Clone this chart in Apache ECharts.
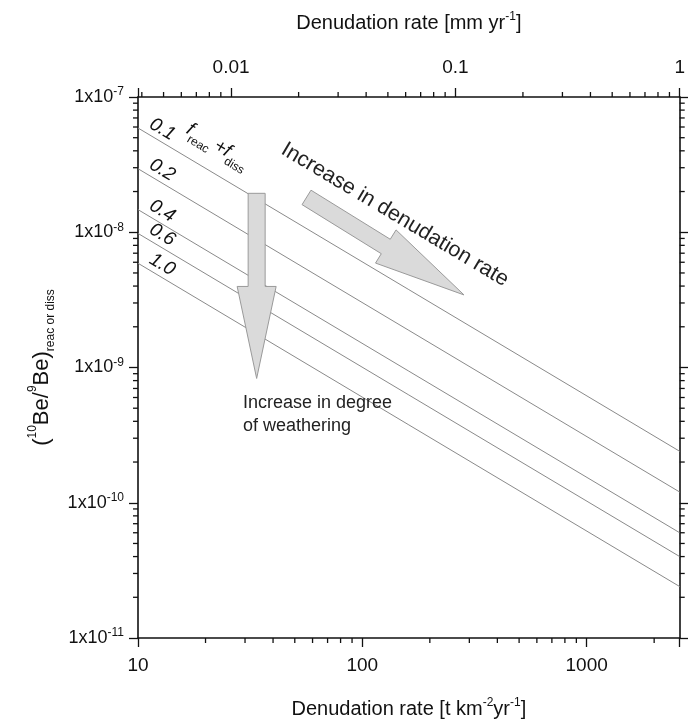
<!DOCTYPE html>
<html><head><meta charset="utf-8">
<script src="https://cdn.jsdelivr.net/npm/echarts@6/dist/echarts.min.js"></script>
<style>html,body{margin:0;padding:0;background:#fff}#c{width:688px;height:726px}</style>
</head><body><div id="c"></div>
<script>
// ---- data ----
const fLabels = ['0.1', '0.2', '0.4', '0.6', '1.0'];
const xEnds = [10, 2600];                       // t km-2 yr-1
const ratioAtStart = [5.9e-8, 2.95e-8, 1.47e-8, 9.8e-9, 5.9e-9];
const ratioAtEnd = [2.4e-10, 1.2e-10, 6.0e-11, 4.0e-11, 2.4e-11];
const bottomRange = [10, 2600];
const topRange = [0.003846, 1];                 // mm yr-1
const yRange = [1e-11, 1e-7];
const bottomTickLabels = ['10', '100', '1000'];
const topTickLabels = ['0.01', '0.1', '1'];
const yTickExps = ['-11', '-10', '-9', '-8', '-7'];
const arrowDown = { tail: [33.8, 1.94e-8], tip: [33.8, 8.3e-10] };
const arrowDiag = { tail: [56.4, 1.81e-8], tip: [284, 3.44e-9] };

const FONT = "'Liberation Sans', Arial, sans-serif";
const isPow10 = v => Math.abs(Math.log10(v) - Math.round(Math.log10(v))) < 1e-6;
function minorVals(lo, hi) {
  const out = [];
  for (let e = Math.floor(Math.log10(lo)); e <= Math.ceil(Math.log10(hi)); e++) {
    for (let k = 2; k <= 9; k++) {
      const v = k * Math.pow(10, e);
      if (v > lo * 1.0001 && v < hi * 0.9999) out.push(v);
    }
  }
  return out;
}
function tickSeries(side, values) {
  const isX = side === 'bottom' || side === 'top';
  return {
    type: 'custom', silent: true, clip: false, z: 10,
    xAxisIndex: side === 'top' ? 1 : 0,
    yAxisIndex: side === 'right' ? 1 : 0,
    data: values.map(v => isX ? [v, 1e-9] : [100, v]),
    encode: { x: 0, y: 1 },
    renderItem: function (params, api) {
      const cs = params.coordSys;
      const p = api.coord([api.value(0), api.value(1)]);
      let s;
      if (side === 'bottom') s = { x1: p[0], y1: cs.y + cs.height, x2: p[0], y2: cs.y + cs.height + 5 };
      else if (side === 'top') s = { x1: p[0], y1: cs.y, x2: p[0], y2: cs.y - 5 };
      else if (side === 'left') s = { x1: cs.x, y1: p[1], x2: cs.x - 5, y2: p[1] };
      else s = { x1: cs.x + cs.width, y1: p[1], x2: cs.x + cs.width + 5, y2: p[1] };
      return { type: 'line', shape: s, style: { stroke: '#111', lineWidth: 1.3 } };
    }
  };
}

const axisLine = { show: true, onZero: false, lineStyle: { color: '#111', width: 1.6 } };
const axisTick = { show: true, inside: false, length: 9, lineStyle: { color: '#111', width: 1.3 } };

const chart = echarts.init(document.getElementById('c'), null, { renderer: 'canvas' });

const lineSeries = fLabels.map((f, i) => ({
  type: 'line', name: f, silent: true, showSymbol: false, symbol: 'none',
  xAxisIndex: 0, yAxisIndex: 0,
  data: [[xEnds[0], ratioAtStart[i]], [xEnds[1], ratioAtEnd[i]]],
  lineStyle: { color: '#8a8a8a', width: 1 }
}));

chart.setOption({
  backgroundColor: '#fff',
  animation: false,
  textStyle: { fontFamily: FONT },
  grid: { left: 138, right: 7, top: 97, bottom: 85, containLabel: false },
  xAxis: [{
    type: 'log', position: 'bottom', min: bottomRange[0], max: bottomRange[1],
    axisLine, axisTick, splitLine: { show: false },
    axisLabel: {
      margin: 18, color: '#111', fontSize: 19, fontFamily: FONT,
      formatter: v => isPow10(v) ? bottomTickLabels[Math.round(Math.log10(v)) - 1] : ''
    },
    name: 'Denudation rate [t km{s|-2}yr{s|-1}]', nameLocation: 'middle', nameGap: 59,
    nameTextStyle: {
      color: '#111', fontSize: 20, fontFamily: FONT, lineHeight: 24,
      rich: { s: { fontSize: 12, lineHeight: 12, verticalAlign: 'top', fontFamily: FONT, color: '#111' } }
    }
  }, {
    type: 'log', position: 'top', min: topRange[0], max: topRange[1],
    axisLine, axisTick, splitLine: { show: false },
    axisLabel: {
      margin: 20, color: '#111', fontSize: 19, fontFamily: FONT,
      formatter: v => isPow10(v) ? topTickLabels[Math.round(Math.log10(v)) + 2] : ''
    },
    name: 'Denudation rate [mm yr{s|-1}]', nameLocation: 'middle', nameGap: 62,
    nameTextStyle: {
      color: '#111', fontSize: 20, fontFamily: FONT, lineHeight: 24,
      rich: { s: { fontSize: 12, lineHeight: 12, verticalAlign: 'top', fontFamily: FONT, color: '#111' } }
    }
  }],
  yAxis: [{
    type: 'log', position: 'left', min: yRange[0], max: yRange[1],
    axisLine, axisTick, splitLine: { show: false },
    axisLabel: {
      margin: 14, color: '#111', fontSize: 18, fontFamily: FONT, lineHeight: 22,
      formatter: v => isPow10(v) ? '1x10{s|' + yTickExps[Math.round(Math.log10(v)) + 11] + '}' : '',
      rich: { s: { fontSize: 12, lineHeight: 12, verticalAlign: 'top', fontFamily: FONT, color: '#111' } }
    },
    name: '({p|10}Be/{p|9}Be){b|reac or diss}', nameLocation: 'middle', nameGap: 80, nameRotate: 90,
    nameTextStyle: {
      color: '#111', fontSize: 22, fontFamily: FONT, lineHeight: 30,
      rich: {
        p: { fontSize: 12, lineHeight: 12, verticalAlign: 'top', fontFamily: FONT, color: '#111' },
        b: { fontSize: 12, lineHeight: 12, verticalAlign: 'bottom', fontFamily: FONT, color: '#111' }
      }
    }
  }, {
    type: 'log', position: 'right', min: yRange[0], max: yRange[1],
    axisLine, axisTick, splitLine: { show: false }, axisLabel: { show: false }
  }],
  series: lineSeries.concat([
    tickSeries('bottom', minorVals(bottomRange[0], bottomRange[1])),
    tickSeries('top', minorVals(topRange[0], topRange[1])),
    tickSeries('left', minorVals(yRange[0], yRange[1])),
    tickSeries('right', minorVals(yRange[0], yRange[1]))
  ])
});

// ---- annotations, placed from data coordinates ----
const toPx = p => chart.convertToPixel({ xAxisIndex: 0, yAxisIndex: 0 }, p);
function arrowPoly(a, shaftHalf, headHalf, headLen) {
  const T = toPx(a.tail), P = toPx(a.tip);
  const dx = P[0] - T[0], dy = P[1] - T[1], L = Math.hypot(dx, dy);
  const u = [dx / L, dy / L], n = [-u[1], u[0]];
  const B = [P[0] - u[0] * headLen, P[1] - u[1] * headLen];
  const pt = (base, s) => [base[0] + n[0] * s, base[1] + n[1] * s];
  return [pt(T, shaftHalf), pt(B, shaftHalf), pt(B, headHalf), P, pt(B, -headHalf), pt(B, -shaftHalf), pt(T, -shaftHalf)];
}
const s0 = toPx([xEnds[0], ratioAtStart[0]]), s1 = toPx([xEnds[1], ratioAtEnd[0]]);
const ang = Math.atan2(s1[1] - s0[1], s1[0] - s0[0]);
const graphics = [];
fLabels.forEach((f, i) => {
  const p = toPx([xEnds[0], ratioAtStart[i]]);
  const ox = p[0] + 8, oy = p[1] + 8 * Math.tan(ang);
  graphics.push({
    type: 'text', x: ox, y: oy - 2, rotation: -ang, silent: true, z: 20,
    style: { text: f, x: 0, y: 0, fill: '#111', font: 'italic 19px ' + FONT, align: 'left', verticalAlign: 'bottom' }
  });
});
graphics.push({
  type: 'text', x: 188, y: 128, rotation: -ang, silent: true, z: 20,
  style: {
    text: '{i|f}{s|reac} {i|+f}{s|diss}', x: 0, y: 0, align: 'left', verticalAlign: 'middle',
    rich: {
      i: { font: 'italic 19px ' + FONT, fill: '#111', lineHeight: 30 },
      s: { font: '12px ' + FONT, fill: '#111', lineHeight: 12, verticalAlign: 'bottom' }
    }
  }
});
graphics.push({
  type: 'text', x: 283, y: 148, rotation: -ang, silent: true, z: 20,
  style: { text: 'Increase in denudation rate', x: 0, y: 0, fill: '#222', font: '21.5px ' + FONT, align: 'left', verticalAlign: 'middle' }
});
graphics.push({
  type: 'text', x: 243, y: 392, silent: true, z: 20,
  style: { text: 'Increase in degree\nof weathering', x: 0, y: 0, fill: '#222', font: '18px ' + FONT, lineHeight: 23, align: 'left', verticalAlign: 'top' }
});
[arrowDown, arrowDiag].forEach(a => {
  graphics.push({
    type: 'polygon', silent: true, z: 15,
    shape: { points: arrowPoly(a, 8.5, 19.5, 92) },
    style: { fill: '#dadada', stroke: '#9a9a9a', lineWidth: 1 }
  });
});
chart.setOption({ graphic: graphics });
</script>
</body></html>
